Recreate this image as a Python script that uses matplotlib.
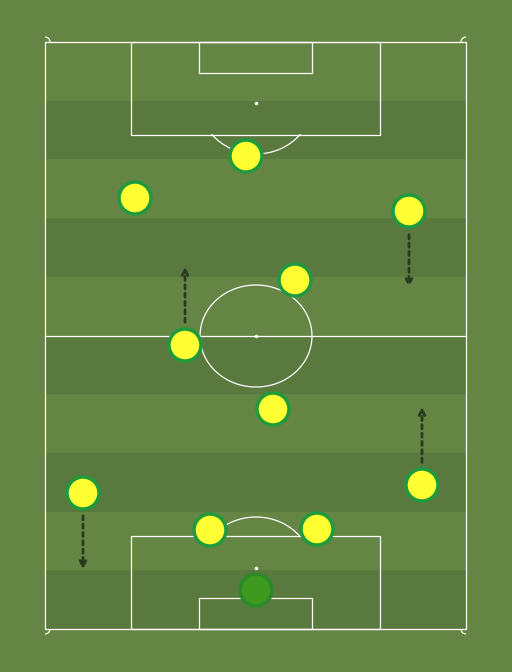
import matplotlib.pyplot as plt
from matplotlib.patches import Rectangle, Ellipse, Arc, Circle

# pitch geometry (pixel space)
LEFT, RIGHT, TOP, BOTTOM = 45, 466, 42, 629
N_STRIPES = 10

# players: x, y
players_x = [246, 135, 409, 295, 185, 273, 83, 422, 210, 317]
players_y = [156, 198, 211, 280, 345, 409, 493, 485, 530, 529]
keeper = (256, 590)

# runs: start -> end
runs = [((409, 232), (409, 290)),
        ((185, 325), (185, 264)),
        ((422, 465), (422, 404)),
        ((83, 513), (83, 572))]

fig = plt.figure(figsize=(5.12, 6.72), dpi=100)
ax = fig.add_axes([0, 0, 1, 1])
ax.set_xlim(0, 512)
ax.set_ylim(672, 0)
ax.axis('off')
fig.patch.set_facecolor('#648544')

h = (BOTTOM - TOP) / N_STRIPES
for i in range(N_STRIPES):
    c = '#648544' if i % 2 == 0 else '#5a793e'
    ax.add_patch(Rectangle((LEFT, TOP + i * h), RIGHT - LEFT, h, color=c, lw=0))

lw = 0.9
wc = 'white'
ax.add_patch(Rectangle((LEFT, TOP), RIGHT - LEFT, BOTTOM - TOP, fill=False, ec=wc, lw=lw))
ax.plot([LEFT, RIGHT], [336, 336], color=wc, lw=lw)
ax.add_patch(Ellipse((256, 336), 112, 102, fill=False, ec=wc, lw=lw))
ax.plot(256, 336, 'o', color=wc, ms=1.5)
# top
ax.add_patch(Rectangle((131, TOP), 249, 93, fill=False, ec=wc, lw=lw))
ax.add_patch(Rectangle((199, TOP), 113, 31, fill=False, ec=wc, lw=lw))
ax.plot(256, 103, 'o', color=wc, ms=1.5)
ax.add_patch(Arc((256, 103), 112, 102, theta1=35, theta2=145, ec=wc, lw=lw))
# bottom
ax.add_patch(Rectangle((131, 536), 249, 93, fill=False, ec=wc, lw=lw))
ax.add_patch(Rectangle((199, 598), 113, 31, fill=False, ec=wc, lw=lw))
ax.plot(256, 568, 'o', color=wc, ms=1.5)
ax.add_patch(Arc((256, 568), 112, 102, theta1=215, theta2=325, ec=wc, lw=lw))
# corners
for cx, cy, t1 in [(LEFT, TOP, 0), (RIGHT, TOP, 90), (RIGHT, BOTTOM, 180), (LEFT, BOTTOM, 270)]:
    ax.add_patch(Arc((cx, cy), 10, 10, theta1=t1 - 90 if False else [270, 180, 90, 0][[0, 90, 180, 270].index(t1)],
                     theta2=[360, 270, 180, 90][[0, 90, 180, 270].index(t1)], ec=wc, lw=lw))

for (x0, y0), (x1, y1) in runs:
    ax.annotate('', xy=(x1, y1), xytext=(x0, y0),
                arrowprops=dict(arrowstyle='->', color='#2a3a1e', lw=2, linestyle=(0, (1.5, 1.5)),
                                mutation_scale=10))

for x, y in zip(players_x, players_y):
    ax.add_patch(Circle((x, y), 16, fc='#ffff33', ec='#1f9a3c', lw=2.5, zorder=5))
ax.add_patch(Circle(keeper, 16, fc='#3d9a1f', ec='#2a8a2a', lw=2.5, zorder=5))

fig.savefig('out.png', dpi=100)
